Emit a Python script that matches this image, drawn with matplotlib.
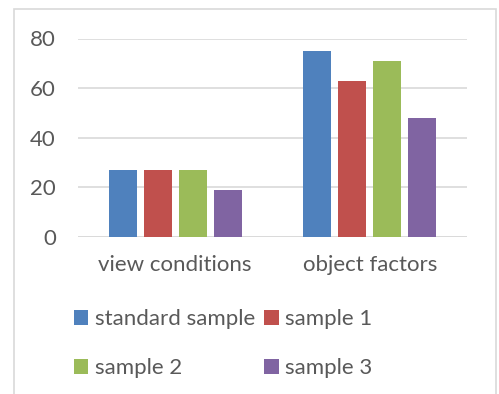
import matplotlib
matplotlib.use("Agg")
import matplotlib.pyplot as plt
import numpy as np
from matplotlib.patches import Rectangle

categories = ["view conditions", "object factors"]
series_names = ["standard sample", "sample 1", "sample 2", "sample 3"]
standard_sample = [27, 75]
sample_1 = [27, 63]
sample_2 = [27, 71]
sample_3 = [19, 48]
y_ticks = [0, 20, 40, 60, 80]

colors = ["#4f81bd", "#c0504d", "#9bbb59", "#8064a2"]
text_color = "#595959"
grid_color = "#d9d9d9"

plt.rcParams["font.family"] = ["Lato", "DejaVu Sans"]
fs = 16

fig = plt.figure(figsize=(4.99, 3.94), dpi=100)
fig.patches.append(Rectangle((14 / 499, -0.05), (496 - 14) / 499, 1 - 9 / 394 + 0.05,
                             transform=fig.transFigure, fill=False,
                             edgecolor=grid_color, linewidth=1.2))

ax = fig.add_axes([78 / 499, 1 - 237 / 394, (467 - 78) / 499, (237 - 38.5) / 394])

x = np.arange(len(categories))
width = 0.144
step = 0.18
all_series = [standard_sample, sample_1, sample_2, sample_3]
for i, (vals, name, c) in enumerate(zip(all_series, series_names, colors)):
    offset = (i - 1.5) * step
    ax.bar(x + offset, vals, width, color=c, label=name, zorder=3)

ax.set_xlim(-0.5, 1.5)
ax.set_ylim(0, 80)
ax.set_yticks(y_ticks)
ax.set_xticks(x)
ax.set_xticklabels(categories)
ax.yaxis.grid(True, color=grid_color, linewidth=1.2, zorder=0)
for s in ax.spines.values():
    s.set_visible(False)
ax.tick_params(axis="both", length=0, colors=text_color, labelsize=fs)
ax.tick_params(axis="y", pad=16)
ax.tick_params(axis="x", pad=13)
# baseline
ax.axhline(0, color=grid_color, linewidth=1.2, zorder=2)

# legend reads row by row: standard sample, sample 1 / sample 2, sample 3
handles, labels = ax.get_legend_handles_labels()
order = [0, 2, 1, 3]
leg = fig.legend([handles[i] for i in order], [labels[i] for i in order],
                 ncol=2, loc="upper left",
                 bbox_to_anchor=(74 / 499, 1 - 309 / 394), frameon=False,
                 handlelength=0.65, handleheight=0.65, handletextpad=0.3,
                 columnspacing=0.4, labelspacing=1.3, fontsize=fs,
                 borderpad=0, borderaxespad=0)
for t in leg.get_texts():
    t.set_color(text_color)

fig.savefig("out.png", dpi=100)
